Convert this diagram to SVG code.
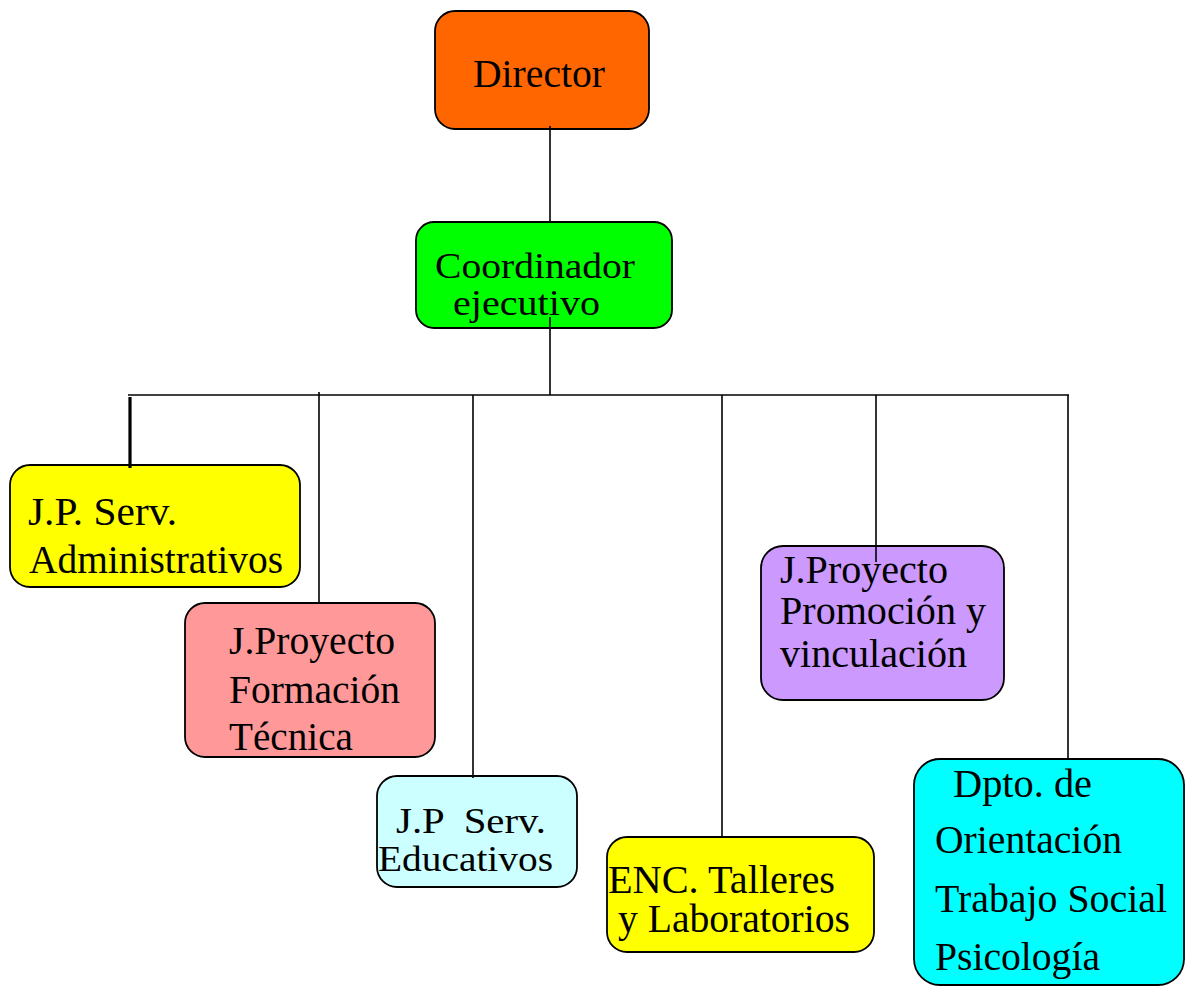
<svg xmlns="http://www.w3.org/2000/svg" width="1185" height="987" viewBox="0 0 1185 987">
<style>
.box{stroke:#000;stroke-width:1.8}
.t{font-family:"Liberation Serif","Times New Roman",serif;font-size:39px;fill:#000}
.s{font-size:36px}
.ln{stroke:#000;stroke-width:1.6;fill:none}
</style>
<rect width="1185" height="987" fill="#fff"/>
<g id="director">
<rect class="box" x="435" y="11" width="214" height="118" rx="20" fill="#FF6600"/>
<text class="t" x="473" y="87" textLength="132" lengthAdjust="spacingAndGlyphs">Director</text>
</g>
<g id="coordinador">
<rect class="box" x="416" y="222" width="256" height="106" rx="18" fill="#00FF00"/>
<text class="t s" x="435" y="278" textLength="200" lengthAdjust="spacingAndGlyphs">Coordinador</text>
<text class="t s" x="453" y="315" textLength="147" lengthAdjust="spacingAndGlyphs">ejecutivo</text>
</g>
<g id="jp-administrativos">
<rect class="box" x="10" y="465" width="290" height="122" rx="20" fill="#FFFF00"/>
<text class="t" x="28" y="525" textLength="149" lengthAdjust="spacingAndGlyphs">J.P. Serv.</text>
<text class="t" x="29" y="573" textLength="254" lengthAdjust="spacingAndGlyphs">Administrativos</text>
</g>
<g id="jp-formacion">
<rect class="box" x="185" y="603" width="250" height="154" rx="20" fill="#FF9999"/>
<text class="t" x="229" y="654" textLength="166" lengthAdjust="spacingAndGlyphs">J.Proyecto</text>
<text class="t" x="229" y="703" textLength="171" lengthAdjust="spacingAndGlyphs">Formación</text>
<text class="t" x="229" y="750" textLength="124" lengthAdjust="spacingAndGlyphs">Técnica</text>
</g>
<g id="jp-educativos">
<rect class="box" x="377" y="776" width="200" height="111" rx="20" fill="#CCFFFF"/>
<text class="t s" x="396" y="833" xml:space="preserve" textLength="150" lengthAdjust="spacingAndGlyphs">J.P  Serv.</text>
<text class="t s" x="378" y="871" textLength="175" lengthAdjust="spacingAndGlyphs">Educativos</text>
</g>
<g id="enc-talleres">
<rect class="box" x="607" y="837" width="267" height="115" rx="20" fill="#FFFF00"/>
<text class="t" x="608" y="893" textLength="227" lengthAdjust="spacingAndGlyphs">ENC. Talleres</text>
<text class="t" x="618" y="932" textLength="232" lengthAdjust="spacingAndGlyphs">y Laboratorios</text>
</g>
<g id="jp-promocion">
<rect class="box" x="761" y="546" width="243" height="154" rx="22" fill="#CC99FF"/>
<text class="t" x="780" y="583" textLength="168" lengthAdjust="spacingAndGlyphs">J.Proyecto</text>
<text class="t" x="780" y="624" textLength="206" lengthAdjust="spacingAndGlyphs">Promoción y</text>
<text class="t" x="780" y="667" textLength="187" lengthAdjust="spacingAndGlyphs">vinculación</text>
</g>
<g id="dpto-orientacion">
<rect class="box" x="914" y="759" width="270" height="226" rx="26" fill="#00FFFF" stroke-width="2.2"/>
<text class="t" x="953" y="797" textLength="139" lengthAdjust="spacingAndGlyphs">Dpto. de</text>
<text class="t" x="935" y="853" textLength="187" lengthAdjust="spacingAndGlyphs">Orientación</text>
<text class="t" x="935" y="912" textLength="232" lengthAdjust="spacingAndGlyphs">Trabajo Social</text>
<text class="t" x="935" y="970" textLength="165" lengthAdjust="spacingAndGlyphs">Psicología</text>
</g>
<g id="connectors">
<line class="ln" x1="550" y1="126" x2="550" y2="222"/>
<line class="ln" x1="550" y1="317" x2="550" y2="395"/>
<line class="ln" x1="128" y1="395" x2="1069" y2="395"/>
<line x1="130" y1="397" x2="130" y2="468" stroke="#000" stroke-width="3.2"/>
<line class="ln" x1="319" y1="392" x2="319" y2="603"/>
<line class="ln" x1="473" y1="395" x2="473" y2="778"/>
<line class="ln" x1="722" y1="395" x2="722" y2="837"/>
<line class="ln" x1="876" y1="395" x2="876" y2="562"/>
<line class="ln" x1="1068" y1="395" x2="1068" y2="760"/>
</g>
</svg>
